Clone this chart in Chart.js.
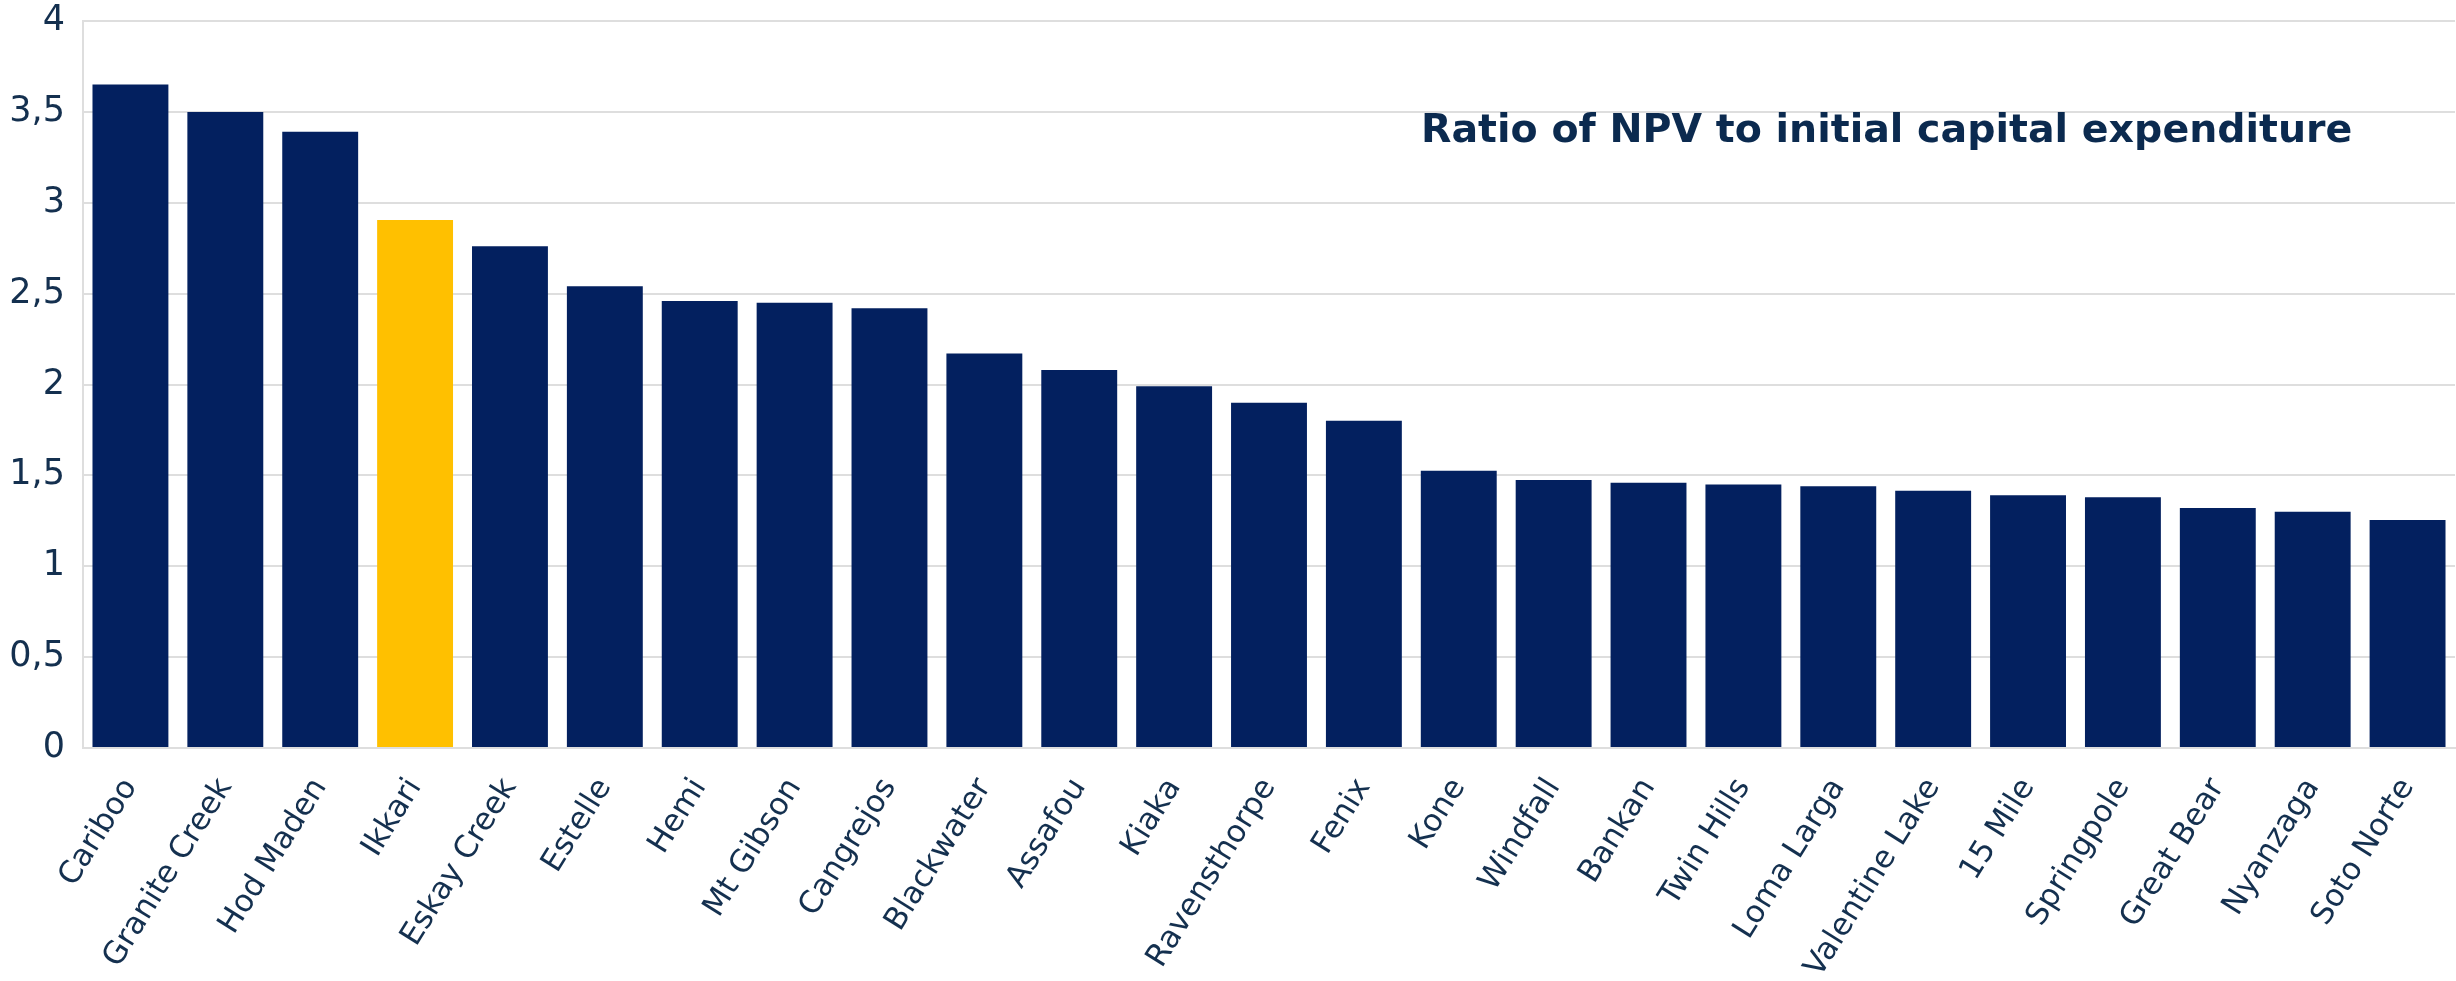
<!DOCTYPE html>
<html>
<head>
<meta charset="utf-8">
<script src="https://cdn.jsdelivr.net/npm/chart.js@4"></script>
<style>
    html, body { margin: 0; padding: 0; background: #fff; }
    #wrap { position: relative; width: 2456px; height: 981px; }
    #title {
        position: absolute;
        left: 1421px;
        top: 105px;
        font-family: "DejaVu Sans", sans-serif;
        font-weight: 700;
        font-size: 39.5px;
        color: #0b2a4f;
        white-space: nowrap;
    }
</style>
</head>
<body>
<div id="wrap">
    <canvas id="npvChart" width="2456" height="981"></canvas>
    <div id="title">Ratio of NPV to initial capital expenditure</div>
</div>
<script>
// ===== Data =====
const projects = [
    'Cariboo', 'Granite Creek', 'Hod Maden', 'Ikkari', 'Eskay Creek', 'Estelle',
    'Hemi', 'Mt Gibson', 'Cangrejos', 'Blackwater', 'Assafou', 'Kiaka',
    'Ravensthorpe', 'Fenix', 'Kone', 'Windfall', 'Bankan', 'Twin Hills',
    'Loma Larga', 'Valentine Lake', '15 Mile', 'Springpole', 'Great Bear',
    'Nyanzaga', 'Soto Norte'
];
const npvRatio = [
    3.65, 3.50, 3.39, 2.905, 2.76, 2.54,
    2.46, 2.45, 2.42, 2.17, 2.08, 1.99,
    1.90, 1.80, 1.525, 1.475, 1.46, 1.45,
    1.44, 1.415, 1.39, 1.38, 1.32,
    1.30, 1.255
];
const highlight = 'Ikkari';

const NAVY = '#03205f';
const GOLD = '#ffc000';
const TEXT = '#14304f';
const GRID = '#dedede';
const FONT = '"DejaVu Sans", sans-serif';

const barColors = projects.map(p => p === highlight ? GOLD : NAVY);

// ===== Chart =====
const ctx = document.getElementById('npvChart').getContext('2d');
new Chart(ctx, {
    type: 'bar',
    data: {
        labels: projects,
        datasets: [{
            data: npvRatio,
            backgroundColor: barColors,
            borderWidth: 0,
            categoryPercentage: 1.0,
            barPercentage: 0.8
        }]
    },
    options: {
        responsive: false,
        animation: false,
        layout: { padding: { top: 21, right: 1 } },
        plugins: {
            legend: { display: false },
            tooltip: { enabled: false }
        },
        scales: {
            x: {
                grid: { display: false },
                border: { display: true, color: GRID, width: 2 },
                ticks: {
                    color: TEXT,
                    font: { family: FONT, size: 31 },
                    minRotation: 58,
                    maxRotation: 58,
                    padding: 16,
                    autoSkip: false
                },
                afterFit: function(scale) {
                    scale.height = 233;
                    scale.paddingLeft = 0;
                    scale.paddingRight = 0;
                }
            },
            y: {
                min: 0,
                max: 4,
                grid: { color: GRID, lineWidth: 2, drawTicks: false },
                border: { display: true, color: GRID, width: 2 },
                ticks: {
                    stepSize: 0.5,
                    color: TEXT,
                    padding: 18,
                    font: { family: FONT, size: 35 },
                    callback: function(value) {
                        return value.toString().replace('.', ',');
                    }
                },
                afterFit: function(scale) {
                    scale.width = 83;
                    scale.paddingTop = 0;
                    scale.paddingBottom = 0;
                }
            }
        }
    }
});
</script>
</body>
</html>
